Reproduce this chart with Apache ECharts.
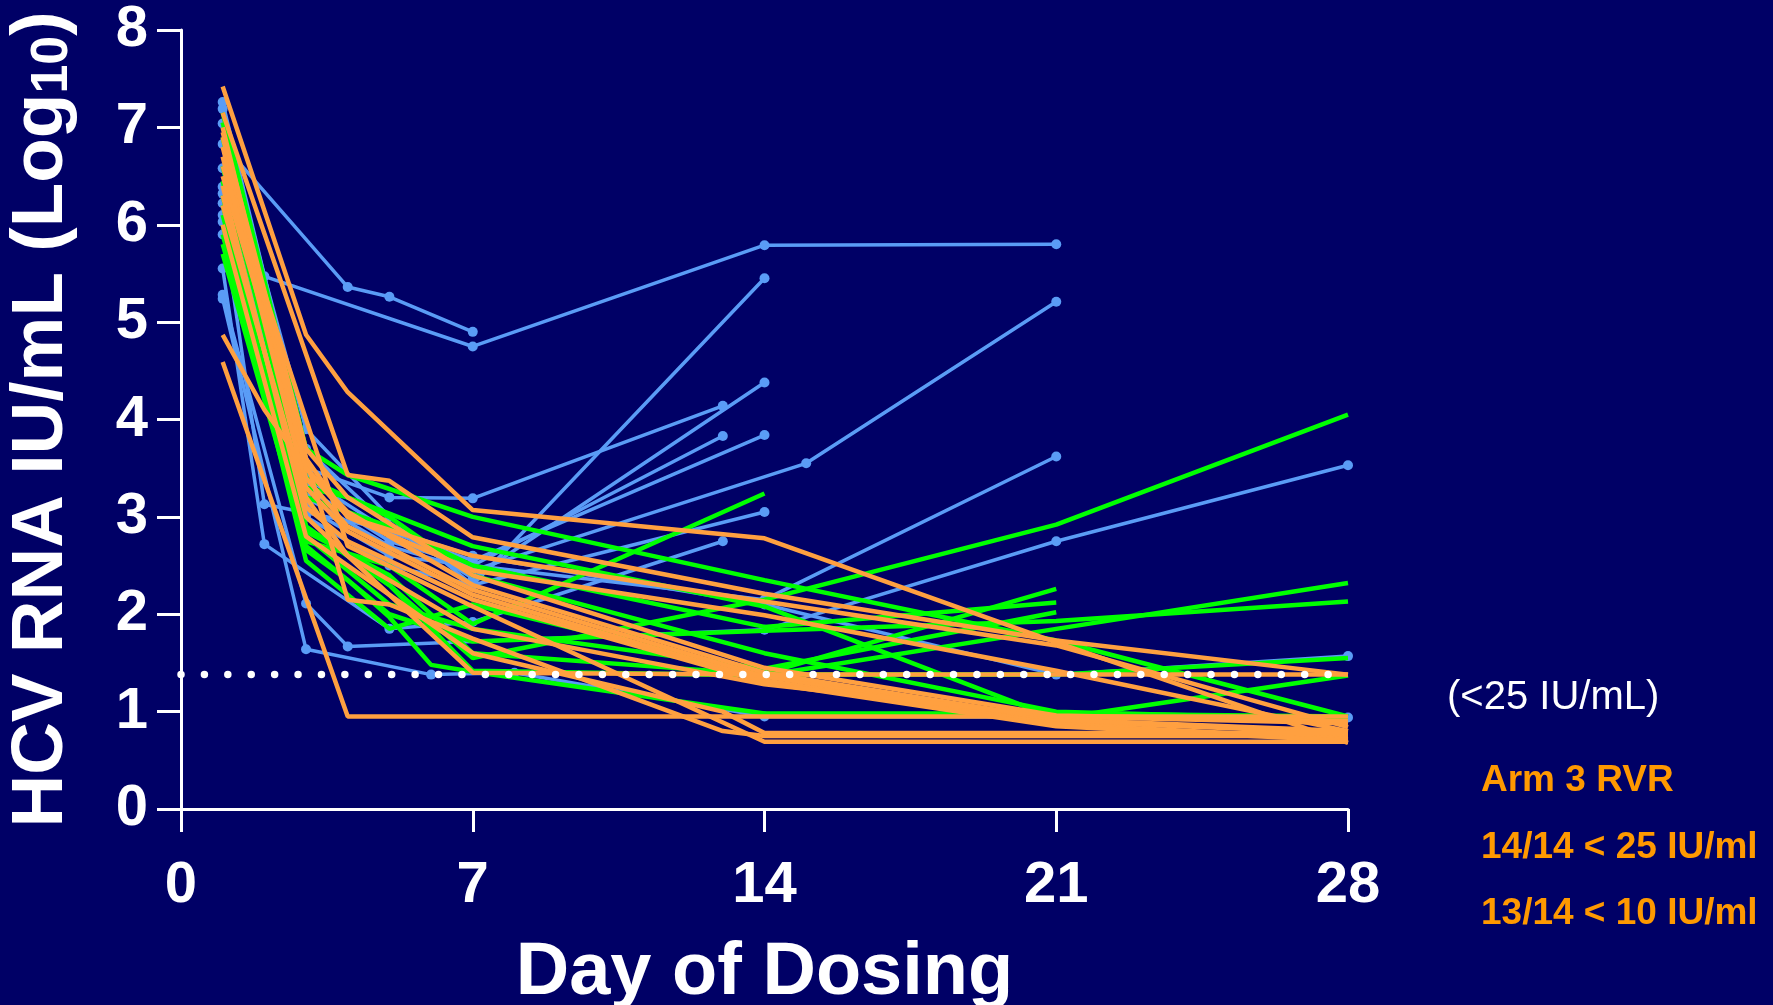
<!DOCTYPE html>
<html>
<head>
<meta charset="utf-8">
<script src="https://cdn.jsdelivr.net/npm/echarts@6/dist/echarts.min.js"></script>
<style>
html,body{margin:0;padding:0;background:#000066;}
#chart{width:1773px;height:1005px;}
</style>
</head>
<body>
<div id="chart"></div>
<script>
// ---- data: [day, log10 HCV RNA] per patient ----
const blueLines = [
  [[1,6.83],[4,5.36],[5,5.26],[7,4.90]],
  [[1,7.19],[2,5.47],[7,4.75],[14,5.79],[21,5.80]],
  [[1,7.04],[3,3.9],[5,3.0],[7,2.3],[14,5.45]],
  [[1,7.26],[3,3.7],[5,2.9],[7,2.37],[14,4.38]],
  [[1,6.58],[3,3.5],[5,3.20],[7,3.19],[13,4.14]],
  [[1,6.39],[3,3.3],[5,2.75],[7,2.5],[13,3.83]],
  [[1,6.32],[3,3.4],[5,2.85],[7,2.55],[14,3.84]],
  [[1,6.22],[3,3.2],[5,2.7],[7,2.45],[15,3.55],[21,5.21]],
  [[1,6.10],[3,3.1],[5,2.6],[7,2.5],[14,2.15],[21,3.62]],
  [[1,5.90],[3,3.0],[5,2.5],[7,2.3],[14,3.05]],
  [[1,5.55],[2,2.72],[5,1.85],[7,1.92],[13,2.75]],
  [[1,5.28],[3,2.11],[4,1.67],[14,1.84],[21,2.75],[28,3.53]],
  [[1,5.24],[3,1.64],[6,1.38],[8,1.40],[14,0.95],[28,0.94]],
  [[1,6.03],[2,3.13],[5,2.87],[7,2.6],[14,2.1],[21,1.38],[28,1.57]]
];
const greenLines = [
  [[1,7.15],[3,3.7],[4,3.43],[7,3.0],[14,2.35],[21,1.73],[28,0.95]],
  [[1,6.2],[3,2.9],[5,2.3],[7,1.55],[14,2.15],[21,2.92],[28,4.05]],
  [[1,6.3],[3,2.75],[5,2.5],[7,1.9],[14,3.24]],
  [[1,6.0],[3,2.55],[5,1.85],[7,2.1],[14,1.39],[21,2.26]],
  [[1,6.6],[3,3.2],[5,2.9],[7,2.5],[14,1.87],[21,2.12]],
  [[1,5.8],[3,2.8],[5,2.1],[7,1.85],[14,1.44],[21,2.02]],
  [[1,6.9],[3,3.3],[4,3.2],[7,2.7],[14,2.08],[21,0.93],[28,1.37]],
  [[1,5.7],[3,2.7],[5,2.0],[7,1.72],[14,1.83],[21,1.93],[28,2.13]],
  [[1,6.1],[3,2.9],[5,2.3],[7,1.42],[14,1.37],[21,1.85],[28,2.32]],
  [[1,5.9],[3,2.66],[4,2.35],[5,1.97],[6,1.48],[7,1.41],[14,0.98],[21,0.98],[28,0.95]],
  [[1,6.45],[3,2.85],[5,2.4],[7,1.6],[14,1.38],[21,1.38],[28,1.55]],
  [[1,7.05],[3,3.4],[5,3.0],[7,2.4],[14,1.6],[21,1.0],[28,0.92]]
];
const orangeLines = [
  [[1,7.42],[3,4.87],[4,4.28],[7,3.07],[14,2.78],[21,1.71],[28,0.68]],
  [[1,4.59],[4,0.95],[7,0.95],[14,0.95],[21,0.95],[28,0.95]],
  [[1,4.87],[2,4.1],[3,3.5],[4,3.0],[7,2.45],[14,1.99],[21,1.42],[28,0.8]],
  [[1,7.15],[4,3.43],[5,3.37],[7,2.79],[14,2.21],[21,1.73],[28,1.38]],
  [[1,6.5],[4,2.15],[5,2.1],[7,1.75],[13,0.8],[14,0.75],[21,0.75],[28,0.75]],
  [[1,6.6],[4,2.7],[7,2.08],[14,0.69],[21,0.69],[28,0.69]],
  [[1,6.4],[3,3.0],[5,2.2],[7,1.40],[14,1.38],[21,1.38],[28,1.38]],
  [[1,6.9],[3,3.6],[4,3.0],[7,2.6],[14,2.13],[21,1.68],[28,0.84]],
  [[1,6.8],[3,3.4],[4,2.9],[7,2.25],[14,1.36],[21,0.9],[28,0.78]],
  [[1,6.7],[3,3.3],[4,2.85],[7,2.2],[14,1.32],[21,0.87],[28,0.72]],
  [[1,7.0],[3,3.5],[4,3.05],[7,2.3],[14,1.4],[21,0.92],[28,0.8]],
  [[1,6.3],[3,3.1],[4,2.75],[7,2.15],[14,1.3],[21,0.85],[28,0.7]],
  [[1,6.2],[3,3.2],[4,2.6],[7,1.85],[14,1.28],[21,0.95],[28,0.88]],
  [[1,6.95],[3,3.7],[4,3.2],[7,2.4],[14,1.45],[21,0.96],[28,0.9]],
  [[1,6.0],[3,2.8],[4,2.5],[7,1.6],[13,1.0],[14,0.78],[28,0.78]]
];
const limitLog = 1.38;           // <25 IU/mL limit line
const limitSpan = [0, 28];
const xMin = 0, xMax = 28, xStep = 7;
const yMin = 0, yMax = 8, yStep = 1;
const noteLines = ['(<25 IU/mL)', 'Arm 3 RVR', '14/14 < 25 IU/ml', '13/14 < 10 IU/ml'];

// ---- chart ----
const FONT = '"Liberation Sans", Arial, Helvetica, sans-serif';
const BLUE = '#5a9cf6', GREEN = '#00ff00', ORANGE = '#ffa040', TXT_OR = '#ff9900';

function lineSeries(data, color, width, dots, z) {
  return {
    type: 'line', data: data, z: z, silent: true,
    symbol: dots ? 'circle' : 'none', symbolSize: dots ? 10 : 0, showSymbol: dots,
    lineStyle: { color: color, width: width },
    itemStyle: { color: color },
    emphasis: { disabled: true }
  };
}

const series = [];
blueLines.forEach(d => series.push(lineSeries(d, BLUE, 3.5, true, 2)));
greenLines.forEach(d => series.push(lineSeries(d, GREEN, 4.5, false, 3)));
orangeLines.forEach(d => series.push(lineSeries(d, ORANGE, 4.5, false, 4)));
series.push({
  type: 'line', silent: true, z: 6, symbol: 'none',
  data: limitSpan.map(x => [x, limitLog]),
  lineStyle: { color: '#ffffff', width: 7.5, type: [0.01, 23.4], cap: 'round' }
});

const chart = echarts.init(document.getElementById('chart'), null, { renderer: 'canvas' });
chart.setOption({
  backgroundColor: '#000066',
  animation: false,
  grid: { left: 181, right: 425, top: 30, bottom: 196, containLabel: false, outerBoundsMode: 'none' },
  xAxis: {
    type: 'value', min: xMin, max: xMax, interval: xStep,
    axisLine: { show: true, lineStyle: { color: '#fff', width: 3 } },
    axisTick: { show: true, length: 23, lineStyle: { color: '#fff', width: 3 } },
    splitLine: { show: false },
    axisLabel: { color: '#fff', fontSize: 58, fontWeight: 'bold', fontFamily: FONT, margin: 48, lineHeight: 58 },
    name: 'Day of Dosing', nameLocation: 'middle', nameGap: 128,
    nameTextStyle: { color: '#fff', fontSize: 74, fontWeight: 'bold', fontFamily: FONT, lineHeight: 74 }
  },
  yAxis: {
    type: 'value', min: yMin, max: yMax, interval: yStep,
    axisLine: { show: true, lineStyle: { color: '#fff', width: 3 } },
    axisTick: { show: true, length: 24, lineStyle: { color: '#fff', width: 3 } },
    splitLine: { show: false },
    axisLabel: { color: '#fff', fontSize: 58, fontWeight: 'bold', fontFamily: FONT, margin: 33 },
    name: '{m|HCV RNA IU/mL (Log}{s|10}{m|)}', nameLocation: 'middle', nameRotate: 90, nameGap: 102,
    nameTextStyle: {
      color: '#fff',
      rich: {
        m: { color: '#fff', fontSize: 73, fontWeight: 'bold', fontFamily: FONT, lineHeight: 74 },
        s: { color: '#fff', fontSize: 52, fontWeight: 'bold', fontFamily: FONT, lineHeight: 30, verticalAlign: 'bottom' }
      }
    }
  },
  graphic: [
    { type: 'text', left: 1447, top: 678, silent: true,
      style: { text: noteLines[0], fill: '#fff', font: '40px ' + FONT } },
    { type: 'text', left: 1481, top: 762, silent: true,
      style: { text: noteLines[1], fill: TXT_OR, font: 'bold 37px ' + FONT } },
    { type: 'text', left: 1481, top: 829, silent: true,
      style: { text: noteLines[2], fill: TXT_OR, font: 'bold 37px ' + FONT } },
    { type: 'text', left: 1481, top: 895, silent: true,
      style: { text: noteLines[3], fill: TXT_OR, font: 'bold 37px ' + FONT } }
  ],
  series: series
});
</script>
</body>
</html>
